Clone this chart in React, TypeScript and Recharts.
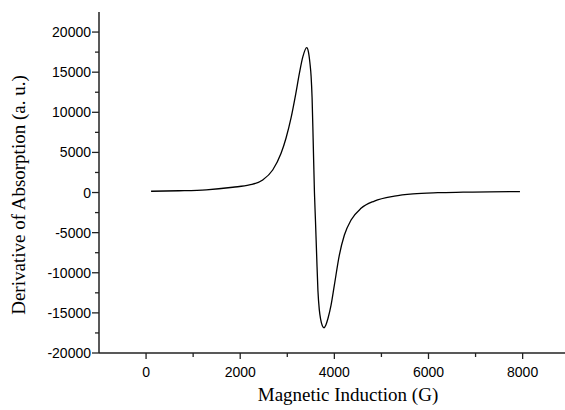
import React from 'react';
import { LineChart, Line, XAxis, YAxis } from 'recharts';

// field (G) and signal (a. u.)
const fieldG = [
  106, 700, 1277, 1843, 2195, 2478, 2690, 2868, 2974, 3080, 3180, 3258, 3330, 3413,
  3450, 3480, 3506, 3527, 3550, 3577, 3600, 3625, 3651, 3680, 3709, 3745, 3780, 3820,
  3864, 3930, 4000, 4106, 4213, 4355, 4567, 4850, 5274, 5672, 6200, 6736, 7300, 7943,
];
const signal = [
  160, 220, 340, 660, 940, 1560, 2810, 4890, 6800, 9300, 12300, 14880, 16900, 18050,
  17500, 16200, 14500, 11800, 6500, 0, -3700, -8000, -12200, -14600, -15800, -16600, -16850, -16500,
  -15700, -14040, -11550, -7800, -5300, -3430, -1970, -1060, -440, -160, -20, 40, 90, 125,
];

const xTicks = [0, 1000, 2000, 3000, 4000, 5000, 6000, 7000, 8000];
const yTicks = [
  -20000, -17500, -15000, -12500, -10000, -7500, -5000, -2500, 0,
  2500, 5000, 7500, 10000, 12500, 15000, 17500, 20000,
];

const data = fieldG.map((g, i) => ({ g, v: signal[i] }));

const tickFont = '"Liberation Sans", Arial, sans-serif';
const titleFont = '"Liberation Serif", "Times New Roman", serif';

const YTick = (props: any) => {
  const { x, y, payload } = props;
  const major = payload.value % 5000 === 0;
  return (
    <g>
      <line x1={x} x2={x - (major ? 7 : 4)} y1={y} y2={y} stroke="#222" strokeWidth={1.3} />
      {major && (
        <text x={x - 8} y={y} dy={5} textAnchor="end" fontSize={14} fontFamily={tickFont} fill="#000">
          {payload.value}
        </text>
      )}
    </g>
  );
};

const XTick = (props: any) => {
  const { x, y, payload } = props;
  const major = payload.value % 2000 === 0;
  return (
    <g>
      <line x1={x} x2={x} y1={y} y2={y + (major ? 6 : 4)} stroke="#222" strokeWidth={1.3} />
      {major && (
        <text x={x} y={y + 24} textAnchor="middle" fontSize={14} fontFamily={tickFont} fill="#000">
          {payload.value}
        </text>
      )}
    </g>
  );
};

export default function App() {
  return (
    <div style={{ position: 'absolute', left: 0, top: 0, background: '#fff' }}>
      <LineChart width={565} height={410} data={data} margin={{ top: 12, right: 0, bottom: 0, left: 0 }}>
        <XAxis
          dataKey="g"
          type="number"
          domain={[-1000, 8900]}
          ticks={xTicks}
          interval={0}
          height={57}
          tickSize={0}
          tickMargin={0}
          tickLine={false}
          tick={<XTick />}
          axisLine={{ stroke: '#222', strokeWidth: 1.5 }}
          label={{
            content: () => (
              <text x={348} y={401} textAnchor="middle" fontSize={19} fontFamily={titleFont} fill="#000">
                Magnetic Induction (G)
              </text>
            ),
          }}
        />
        <YAxis
          type="number"
          domain={[-20000, 22500]}
          ticks={yTicks}
          interval={0}
          width={99}
          tickSize={0}
          tickMargin={0}
          tickLine={false}
          tick={<YTick />}
          axisLine={{ stroke: '#222', strokeWidth: 1.5 }}
          label={{
            content: () => (
              <text
                x={25}
                y={195}
                transform="rotate(-90, 25, 195)"
                textAnchor="middle"
                fontSize={19}
                fontFamily={titleFont}
                fill="#000"
              >
                Derivative of Absorption (a. u.)
              </text>
            ),
          }}
        />
        <Line
          type="monotone"
          dataKey="v"
          stroke="#000"
          strokeWidth={1.3}
          dot={false}
          isAnimationActive={false}
        />
      </LineChart>
    </div>
  );
}
